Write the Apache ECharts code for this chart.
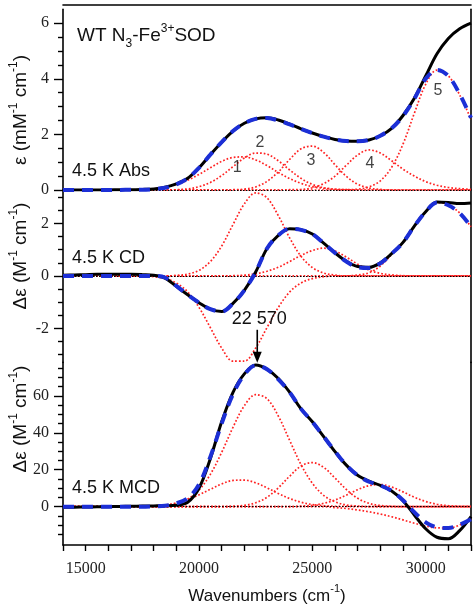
<!DOCTYPE html>
<html><head><meta charset="utf-8">
<script src="https://cdn.jsdelivr.net/npm/echarts@6/dist/echarts.min.js"></script>
<style>html,body{margin:0;padding:0;background:#fff}#c{width:476px;height:610px}</style>
</head><body><div id="c"></div>
<script>
// ---------- data ----------
const wavenumbers = [14000,14500,15000,15500,16000,16500,17000,17500,18000,18500,19000,19500,20000,20500,21000,21500,22000,22500,23000,23500,24000,24500,25000,25500,26000,26500,27000,27500,28000,28500,29000,29500,30000,30500,31000,31500,32000];

// Abs panel (mM-1 cm-1)
const absExp = [0,0,0,0,0,0.01,0.01,0.02,0.04,0.1,0.22,0.42,0.8,1.27,1.72,2.12,2.4,2.56,2.6,2.52,2.37,2.2,2.05,1.92,1.82,1.76,1.75,1.8,1.95,2.22,2.68,3.3,4.1,4.9,5.45,5.8,6.0];
const absFit = [0,0,0,0,0,0,0.01,0.01,0.03,0.08,0.2,0.42,0.8,1.27,1.72,2.12,2.4,2.56,2.59,2.5,2.36,2.2,2.05,1.92,1.82,1.76,1.75,1.8,1.95,2.22,2.66,3.28,4.0,4.32,4.1,3.45,2.6];
const absG1 = [0,0,0,0,0,0,0,0.01,0.04,0.1,0.19,0.35,0.56,0.8,1.03,1.17,1.19,1.08,0.88,0.63,0.41,0.24,0.12,0.06,0.02,0.01,0,0,0,0,0,0,0,0,0,0,0];
const absG2 = [0,0,0,0,0,0,0,0,0,0,0.01,0.04,0.12,0.27,0.52,0.84,1.15,1.33,1.29,1.05,0.72,0.42,0.2,0.08,0.03,0.01,0,0,0,0,0,0,0,0,0,0,0];
const absG3 = [0,0,0,0,0,0,0,0,0,0,0,0,0,0,0,0.01,0.03,0.11,0.31,0.65,1.1,1.48,1.58,1.35,0.91,0.49,0.21,0.07,0.02,0,0,0,0,0,0,0,0];
const absG4 = [0,0,0,0,0,0,0,0,0,0,0,0,0,0,0,0,0,0,0,0,0.01,0.02,0.08,0.23,0.5,0.89,1.26,1.44,1.33,1.05,0.75,0.5,0.3,0.17,0.09,0.05,0.02];
const absG5 = [0,0,0,0,0,0,0,0,0,0,0,0,0,0,0,0,0,0,0,0,0,0,0,0,0,0.01,0.03,0.11,0.33,0.82,1.65,2.76,3.8,4.31,4.11,3.42,2.55];
const absPeakNames = ['1','2','3','4','5'];
const absPeakX = [21680,22690,24940,27540,30540];
const absPeakY = [0.79,1.69,1.04,0.94,3.56];

// CD panel (M-1 cm-1)
const cdExp = [0.03,0.04,0.05,0.06,0.06,0.06,0.06,0.05,0.03,-0.08,-0.4,-0.72,-1.02,-1.27,-1.36,-1.05,-0.55,0.15,1.05,1.55,1.8,1.76,1.6,1.25,0.88,0.56,0.36,0.33,0.5,0.85,1.28,1.9,2.45,2.82,2.8,2.76,2.78];
const cdFit = [0,0,0,0,0,0,0,0,0,-0.06,-0.38,-0.72,-1.02,-1.27,-1.36,-1.05,-0.55,0.15,1.05,1.55,1.8,1.76,1.6,1.25,0.88,0.55,0.33,0.3,0.48,0.85,1.28,1.9,2.45,2.8,2.7,2.4,1.88];
const cdG1 = [0,0,0,0,0,0,0,0,0,0,0.02,0.07,0.21,0.55,1.14,1.96,2.75,3.17,2.98,2.3,1.45,0.75,0.32,0.11,0.03,0,0,0,0,0,0,0,0,0,0,0,0];
const cdG2 = [0,0,0,0,0,0,0,0,-0.03,-0.1,-0.27,-0.61,-1.2,-1.97,-2.75,-3.25,-3.25,-2.75,-1.97,-1.2,-0.61,-0.27,-0.1,-0.03,0,0,0,0,0,0,0,0,0,0,0,0,0];
const cdG3 = [0,0,0,0,0,0,0,0,0,0,0,0,0,0,0,0.01,0.03,0.08,0.18,0.33,0.55,0.78,0.97,1.06,0.95,0.72,0.45,0.22,0.1,0.04,0.01,0,0,0,0,0,0];
const cdG4 = [0,0,0,0,0,0,0,0,0,0,0,0,0,0,0,0,0,0,0,0,0,0,0,0,0,0,0.04,0.12,0.38,0.82,1.28,1.88,2.45,2.8,2.72,2.4,1.88];

// MCD panel (M-1 cm-1)
const mcdExp = [-0.4,-0.3,-0.2,-0.1,0,0.1,0.2,0.3,0.4,0.5,0.8,2.4,10,26,46,62,72,76.8,74.5,69.5,62,53,46,38,29.8,22.5,17,13.8,11.5,8.5,3.2,-4.5,-12,-16.6,-17.4,-13,-5.4];
const mcdFit = [0,0,0,0,0,0,0,0,0.2,0.5,1.8,4.5,12,27,45,61,71.5,76.5,74.5,69,62,53,46,38,30,22.5,17,13.5,11.5,8.5,3.5,-3,-8.5,-11.2,-11.6,-9.8,-6.8];
const mcdG1 = [0,0,0,0,0,0,0,0,0.4,0.9,2.0,3.8,6.4,9.4,12.3,14.2,14.4,12.9,10.2,7.1,4.4,2.4,1.1,0.5,0.2,0.1,0,0,0,0,0,0,0,0,0,0,0];
const mcdG2 = [0,0,0,0,0,0,0,0,0,0,1.6,4.1,9.0,17.5,29.4,43,54.7,60.7,58.5,49.1,35.9,22.8,12.7,6.1,2.6,0.9,0.3,0,0,0,0,0,0,0,0,0,0];
const mcdG3 = [0,0,0,0,0,0,0,0,0,0,0,0,0,0,0,0.2,0.7,2.1,5.1,10.2,16.5,22,23.9,21.3,15.5,9.3,4.5,1.8,0.6,0.2,0,0,0,0,0,0,0];
const mcdG4 = [0,0,0,0,0,0,0,0,0,0,0,0,0,0,0,0,0,0,0,0,0,0.3,0.7,1.8,3.6,6.2,9.2,11.4,12,10.6,8.0,5.1,2.8,1.3,0.5,0.2,0.1];
const mcdG5 = [0,0,0,0,0,0,0,0,0,0,0,0,0,0,0,0,0,0,0,0,0,0,0,0,-0.5,-1,-1.8,-2.8,-4,-5.5,-7.2,-9,-10.5,-11.5,-11.6,-10,-6.5];
const arrowWavenumber = 22570;
const arrowLabel = '22 570';
const arrowTipValue = 78;

// ticks / labels
const xLabelValues = [15000,20000,25000,30000];
const absMajor = [0,2,4,6];
const absMinor = [0.5,1,1.5,2.5,3,3.5,4.5,5,5.5];
const cdMajor = [-2,0,2];
const cdMinor = [-3,-2.5,-1.5,-1,-0.5,0.5,1,1.5,2.5,3];
const mcdMajor = [0,20,40,60];
const mcdMinor = [-15,-10,-5,5,10,15,25,30,35,45,50,55,65,70,75];

// ---------- chart ----------
const SANS = '"Liberation Sans", Arial, sans-serif';
const SERIF = '"Liberation Serif", "Times New Roman", serif';
const chart = echarts.init(document.getElementById('c'), null, {renderer: 'canvas'});

const GL = 63, GW = 408;
const grids = [
  {left: GL, width: GW, top: 9.3, height: 180.7},
  {left: GL, width: GW, top: 190, height: 172.4},
  {left: GL, width: GW, top: 362.4, height: 182.6}
];
const yRanges = [[0, 6.5], [-3.3, 3.28], [-20.8, 78.2]];
const majors = [absMajor, cdMajor, mcdMajor];
const minors = [absMinor, cdMinor, mcdMinor];
const TICK = {color: '#000', width: 1.4};

const yAxes = [];
for (let g = 0; g < 3; g++) {
  const [mn, mx] = yRanges[g];
  yAxes.push({
    type: 'value', gridIndex: g, position: 'left', min: mn, max: mx,
    axisLine: {show: true, onZero: false, lineStyle: {color: '#000', width: 1.6}},
    axisTick: {show: true, inside: false, length: 9, customValues: majors[g], lineStyle: TICK},
    axisLabel: {show: true, customValues: majors[g], margin: 14, fontFamily: SERIF, fontSize: 16, color: '#222'},
    splitLine: {show: false}
  });
  yAxes.push({
    type: 'value', gridIndex: g, position: 'left', min: mn, max: mx,
    axisLine: {show: false, onZero: false},
    axisTick: {show: true, inside: false, length: 5, customValues: minors[g], lineStyle: TICK},
    axisLabel: {show: false},
    splitLine: {show: false}
  });
  yAxes.push({
    type: 'value', gridIndex: g, position: 'right', min: mn, max: mx,
    axisLine: {show: true, onZero: false, lineStyle: {color: '#000', width: 1.6}},
    axisTick: {show: false}, axisLabel: {show: false}, splitLine: {show: false}
  });
}

const xAxes = [
  {type: 'value', gridIndex: 0, min: 14000, max: 32000, position: 'top', offset: 5,
   axisLine: {show: true, onZero: false, lineStyle: {color: '#000', width: 1.6}},
   axisTick: {show: false}, axisLabel: {show: false}, splitLine: {show: false}},
  {type: 'value', gridIndex: 1, min: 14000, max: 32000, show: false},
  {type: 'value', gridIndex: 2, min: 14000, max: 32000, interval: 1000, position: 'bottom',
   axisLine: {show: true, onZero: false, lineStyle: {color: '#000', width: 1.6}},
   axisTick: {show: true, length: 6, lineStyle: TICK},
   axisLabel: {show: true, margin: 16, fontFamily: SERIF, fontSize: 16, color: '#222',
     formatter: v => (xLabelValues.indexOf(v) >= 0 ? String(v) : '')},
   splitLine: {show: false}}
];

const pair = (xs, ys) => xs.map((x, i) => [x, ys[i]]);
const RED = {color: '#ff2222', width: 1.7, type: [1.7, 2.0]};
const BLACK = {color: '#000', width: 3};
const BLUE = {color: '#1c2fd6', width: 4, type: [11, 8]};

function line(xi, yi, ys, style, z, extra) {
  return Object.assign({
    type: 'line', xAxisIndex: xi, yAxisIndex: yi, data: pair(wavenumbers, ys),
    showSymbol: false, symbol: 'none', smooth: 0.35, lineStyle: style,
    z: z, silent: true, animation: false
  }, extra || {});
}
const zeroLine = {
  markLine: {silent: true, symbol: ['none', 'none'], label: {show: false},
    lineStyle: {color: '#000', width: 1.2, type: [1.5, 1.5]}, data: [{yAxis: 0}], animation: false}
};

const panels = [
  {xi: 0, yi: 0, exp: absExp, fit: absFit, comps: [absG1, absG2, absG3, absG4, absG5]},
  {xi: 1, yi: 3, exp: cdExp, fit: cdFit, comps: [cdG1, cdG2, cdG3, cdG4]},
  {xi: 2, yi: 6, exp: mcdExp, fit: mcdFit, comps: [mcdG1, mcdG2, mcdG3, mcdG4, mcdG5]}
];
const series = [];
panels.forEach(p => {
  p.comps.forEach(c => series.push(line(p.xi, p.yi, c, RED, 2)));
  series.push(line(p.xi, p.yi, p.exp, BLACK, 4, zeroLine));
  series.push(line(p.xi, p.yi, p.fit, BLUE, 5));
});
series.push({
  type: 'scatter', xAxisIndex: 0, yAxisIndex: 0, symbolSize: 0, silent: true, animation: false,
  data: absPeakNames.map((n, i) => ({name: n, value: [absPeakX[i], absPeakY[i]]})),
  label: {show: true, position: 'inside', formatter: p => p.name, fontFamily: SANS, fontSize: 16, color: '#111'},
  z: 6
});

chart.setOption({
  animation: false,
  backgroundColor: '#fff',
  grid: grids,
  xAxis: xAxes,
  yAxis: yAxes,
  series: series
});

// ---------- text annotations ----------
function rich(size) {
  const s = Math.round(size * 0.62);
  return {
    a: {fontFamily: SANS, fontSize: size, lineHeight: size + 8, fill: '#111', color: '#111'},
    sup: {fontFamily: SANS, fontSize: s, lineHeight: s, verticalAlign: 'top', fill: '#111', color: '#111'},
    sub: {fontFamily: SANS, fontSize: s, lineHeight: s, verticalAlign: 'bottom', fill: '#111', color: '#111'}
  };
}
function txt(x, y, text, size, align, rot) {
  return {type: 'text', x: x, y: y, rotation: rot || 0, z: 10, silent: true,
    style: {text: text, rich: rich(size), align: align || 'left', verticalAlign: 'middle'}};
}
const ax = chart.convertToPixel({xAxisIndex: 2}, arrowWavenumber);
const tipY = chart.convertToPixel({yAxisIndex: 6}, arrowTipValue);
const graphics = [
  txt(77, 36, '{a|WT N}{sub|3}{a|-Fe}{sup|3+}{a|SOD}', 19),
  txt(72, 171.5, '{a|4.5 K Abs}', 18),
  txt(72, 258, '{a|4.5 K CD}', 18),
  txt(72, 488, '{a|4.5 K MCD}', 18),
  txt(21, 110, '{a|ε (mM}{sup|-1}{a| cm}{sup|-1}{a|)}', 19, 'center', Math.PI / 2),
  txt(21, 256, '{a|Δε (M}{sup|-1}{a| cm}{sup|-1}{a|)}', 19, 'center', Math.PI / 2),
  txt(21, 419, '{a|Δε (M}{sup|-1}{a| cm}{sup|-1}{a|)}', 19, 'center', Math.PI / 2),
  txt(267, 596, '{a|Wavenumbers (cm}{sup|-1}{a|)}', 17, 'center'),
  txt(ax + 2, tipY - 44, '{a|' + arrowLabel + '}', 18, 'center'),
  {type: 'line', z: 10, silent: true, shape: {x1: ax, y1: tipY - 33, x2: ax, y2: tipY - 9},
   style: {stroke: '#000', lineWidth: 1.6}},
  {type: 'polygon', z: 10, silent: true,
   shape: {points: [[ax, tipY], [ax - 4.5, tipY - 11], [ax + 4.5, tipY - 11]]},
   style: {fill: '#000'}}
];
chart.setOption({graphic: graphics});
</script></body></html>
